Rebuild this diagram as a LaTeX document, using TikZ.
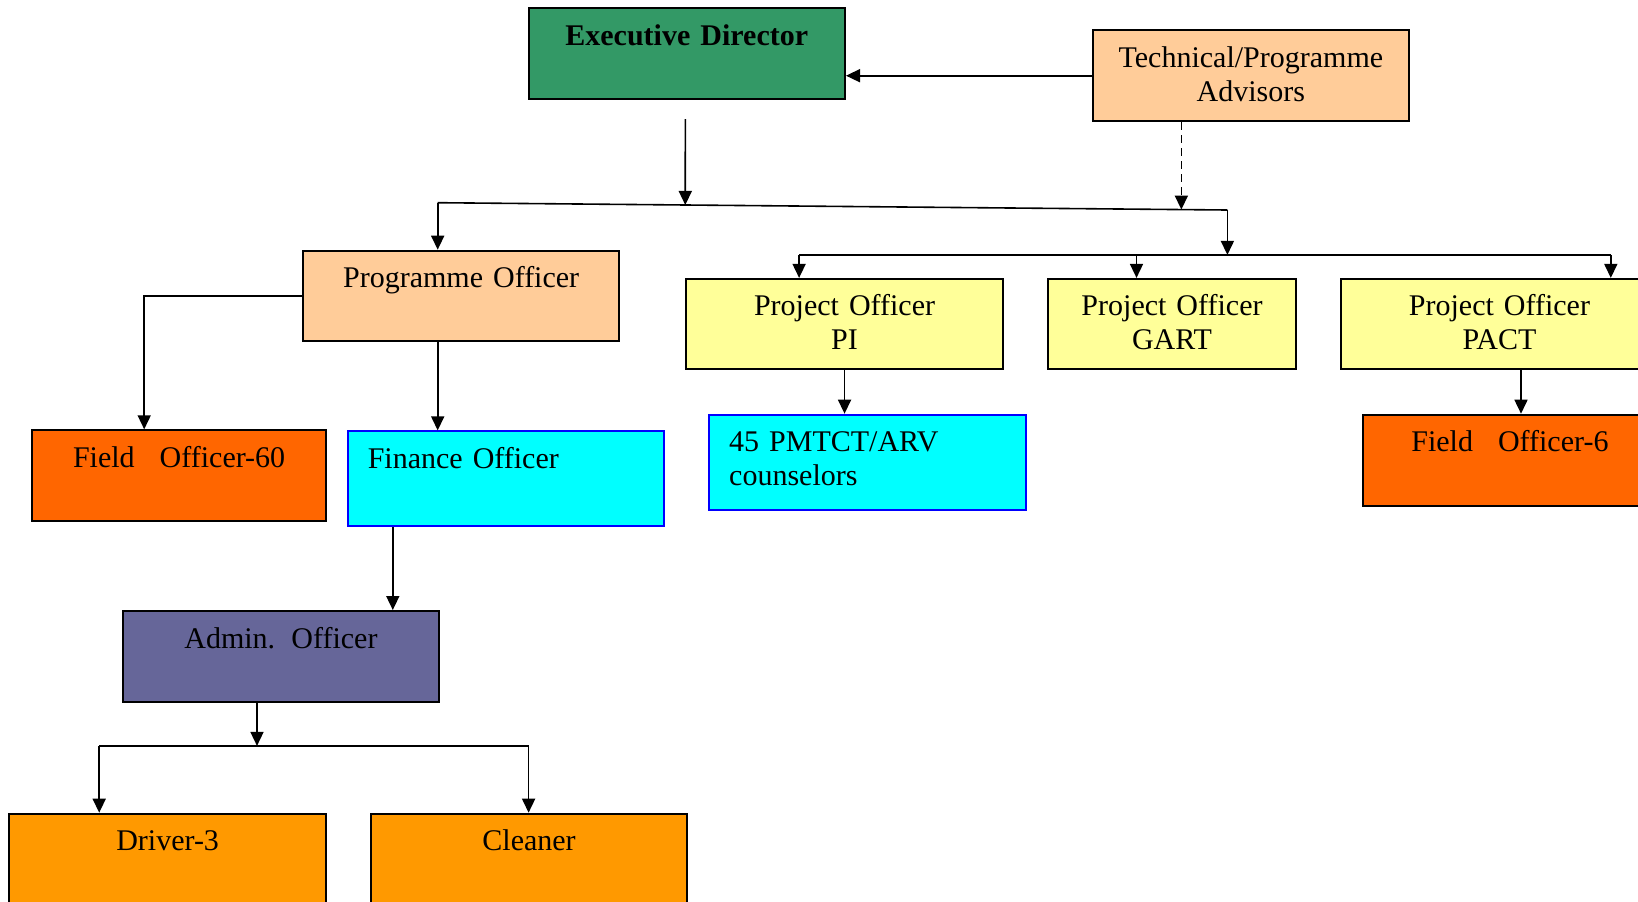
\documentclass[tikz,border=0pt]{standalone}
\usepackage{fontspec}
\setmainfont{Liberation Serif}
\usetikzlibrary{arrows.meta,calc}

\definecolor{edgreen}{HTML}{339966}
\definecolor{peach}{HTML}{FFCC99}
\definecolor{lemon}{HTML}{FFFF99}
\definecolor{rust}{HTML}{FF6600}
\definecolor{amber}{HTML}{FF9900}
\definecolor{slate}{HTML}{666699}
\definecolor{aqua}{HTML}{00FFFF}

\begin{document}
\begin{tikzpicture}[x=0.5pt, y=-0.5pt,
  box/.style={draw, line width=1pt, anchor=north west, inner ysep=0pt, inner xsep=0pt,
    align=center, text width=158.25pt, text height=18.5pt, text depth=27pt,
    font=\fontsize{15pt}{17pt}\selectfont},
  leftbox/.style={box, draw=blue, fill=aqua, align=left, inner xsep=10pt,
    text width=138.25pt, text depth=29pt},
  link/.style={line width=0.8pt, -{Triangle[length=7pt, width=6.5pt]}},
  bar/.style={line width=0.8pt}]

\useasboundingbox (0,0) rectangle (1638,901);
\clip (0,0) rectangle (1638,901);

% NODES %%%%%%%%%%%%%%%%%%%%%%%%%%%%%%%%%%%%%%%%%%%%%%%%%%%%%%%%%%%%%%%%%%

\node[box, fill=edgreen, font=\fontsize{15pt}{17pt}\selectfont\bfseries] (ED) at (527.5,7.3) {Executive Director};
\node[box, fill=peach] (TA) at (1091.6,29.2) {Technical/Programme\\Advisors};

\node[box, fill=peach, text depth=26.5pt] (PO) at (301.9,249.7) {Programme Officer};
\node[box, fill=rust, text width=146.8pt] (FO60) at (31.3,429.3) {Field\hspace{12.5pt}Officer-60};
\node[leftbox] (Fin) at (346.8,430.4) {Finance Officer};
\node[box, fill=slate, text width=157.75pt] (Adm) at (122.2,610) {Admin.\hspace{8.1pt}Officer};
\node[box, fill=amber, text depth=29pt] (Drv) at (8.4,812.7) {Driver-3};
\node[box, fill=amber, text depth=29pt] (Cln) at (369.8,812.7) {Cleaner};

\node[box, fill=lemon, text depth=26.5pt] (PI) at (685.3,277.9) {Project Officer\\PI};
\node[box, fill=lemon, text depth=26.5pt, text width=124.3pt] (GART) at (1046.7,277.9) {Project Officer\\GART};
\node[box, fill=lemon, text depth=26.5pt] (PACT) at (1340.2,277.9) {Project Officer\\PACT};
\node[leftbox] (PM) at (708.2,413.7) {45 PMTCT/ARV\\counselors};
\node[box, fill=rust, text width=146.8pt] (FO6) at (1362.1,413.7) {Field\hspace{12.5pt}Officer-6};

% JUNCTIONS

\coordinate (EDs) at (685.3,119);
\coordinate (J1) at (437.7,202.7);
\coordinate (J2) at (1227.4,210);
\coordinate (EDin) at ($(J1)!0.3135!(J2)$);
\coordinate (TAin) at ($(J1)!0.9417!(J2)$);
\coordinate (B1) at (799.1,254.9);
\coordinate (B2) at (1610.8,254.9);
\coordinate (xG) at (1136.5,254.9);
\coordinate (xFO) at (144.2,0);
\coordinate (xFA) at (392.8,0);
\coordinate (xPF) at (1521,0);
\coordinate (xAD) at (257,745.9);
\coordinate (D1) at (99.2,745.9);
\coordinate (D2) at (528.6,745.9);

% LINKS %%%%%%%%%%%%%%%%%%%%%%%%%%%%%%%%%%%%%%%%%%%%%%%%%%%%%%%%%%%%%%%%%%

\draw[link] (TA.west) -- (TA.west -| ED.east);
\draw[link] (EDs) -- (EDin);
\draw[link, dash pattern=on 4pt off 2.5pt] (TAin |- TA.south) -- (TAin);

\draw[bar] (J1) -- (J2);
\draw[link] (J1) -- (J1 |- PO.north);
\draw[link] (J2) -- (J2 |- B1);

\draw[bar] (B1) -- (B2);
\draw[link] (B1) -- (B1 |- PI.north);
\draw[link] (xG) -- (xG |- GART.north);
\draw[link] (B2) -- (B2 |- PACT.north);

\draw[link] (PO.west) -| (xFO |- FO60.north);
\draw[link] (J1 |- PO.south) -- (J1 |- Fin.north);
\draw[link] (xFA |- Fin.south) -- (xFA |- Adm.north);

\draw[link] (xAD |- Adm.south) -- (xAD);
\draw[bar] (D1) -- (D2);
\draw[link] (D1) -- (D1 |- Drv.north);
\draw[link] (D2) -- (D2 |- Cln.north);

\draw[link] (PI.south) -- (PI.south |- PM.north);
\draw[link] (xPF |- PACT.south) -- (xPF |- FO6.north);

\end{tikzpicture}
\end{document}
